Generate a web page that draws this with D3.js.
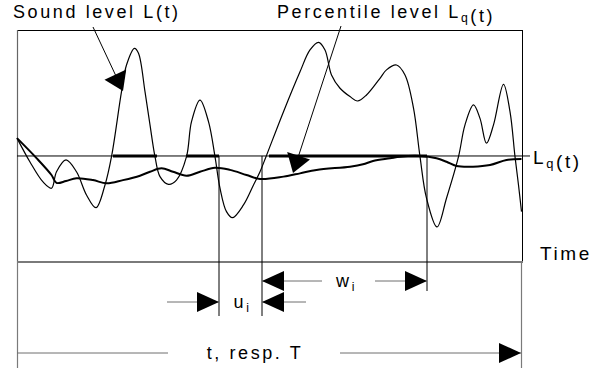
<!DOCTYPE html>
<html>
<head>
<meta charset="utf-8">
<script src="https://cdn.jsdelivr.net/npm/d3@7"></script>
<style>
  html, body { margin: 0; padding: 0; background: #fff; }
  svg text { font-family: "Liberation Sans", Arial, sans-serif; fill: #000; }
</style>
</head>
<body>
<div id="chart"></div>
<script>
// sound level L(t) (time 0..101, level 0..100)
var soundTime = [0, 2.6, 5.2, 6.9, 7.9, 9.8, 11.9, 13.9, 15.8, 17.6, 18.9, 20.9, 21.9, 23.5, 24.3,
  25.6, 26.6, 27.6, 28.6, 30.3, 31.9, 33.9, 34.9, 36.6, 38.3, 39.6, 40.6, 41.9, 43.1, 45.3,
  47.3, 48.6, 49.8, 53.3, 56.6, 58.6, 60.3, 61.6, 62.9, 64.6, 66.6, 68.1, 69.9, 72.6, 73.9,
  75.9, 77.6, 79.3, 80.6, 81.9, 84.0, 85.9, 88.3, 89.6, 91.3, 92.6, 93.9, 95.3, 97.3, 98.6,
  99.6, 100.3, 100.9];
var soundLevel = [53.4, 43.1, 34.5, 31.8, 38.9, 44.0, 38.9, 28.9, 23.4, 33.2, 45.4, 73.4, 84.9, 92.1, 90.0,
  73.4, 59.1, 45.4, 36.8, 33.5, 35.3, 45.4, 60.5, 69.8, 60.5, 45.4, 31.8, 21.7, 19.1, 24.6,
  33.2, 38.9, 45.4, 64.8, 82.0, 91.4, 94.7, 91.4, 80.6, 74.9, 71.3, 69.4, 72.0, 79.2, 82.8,
  84.9, 80.6, 66.3, 45.4, 27.5, 15.1, 27.5, 45.4, 59.1, 67.7, 61.9, 51.2, 59.1, 76.6, 64.8,
  45.4, 33.2, 21.7];

// percentile level Lq(t)
var pctTime = [0, 3.9, 6.9, 7.9, 9.8, 11.9, 15.2, 17.9, 21.2, 24.6, 26.6, 28.9, 31.2, 33.9, 36.6,
  39.6, 42.6, 45.9, 48.6, 53.3, 56.6, 59.9, 66.6, 69.2, 71.2, 74.6, 76.6, 80.6, 83.9, 85.9,
  87.9, 91.2, 94.6, 97.9, 100.9];
var pctLevel = [53.4, 44.8, 37.5, 34.1, 34.9, 36.1, 35.3, 33.9, 35.3, 37.2, 38.9, 40.4, 38.9, 37.2, 38.9,
  40.6, 39.7, 37.5, 35.8, 36.8, 38.2, 39.7, 41.1, 42.1, 43.5, 44.7, 45.4, 45.7, 44.7, 43.2,
  41.4, 41.1, 41.8, 44.0, 44.4];

var lqLevel = 45.7;
var exceedStart = [19.2, 33.8, 50.4];
var exceedEnd = [28.0, 40.4, 82.0];
var uStart = 40.4, uEnd = 49.0, wEnd = 82.0;
var totalTime = 100.8;
var timeMax = 101;

// callout tips (data) for the two labels
var soundTip = [21.2, 73.7];
var pctTip = [55.2, 38.4];

var width = 609, height = 368;
var svg = d3.select("#chart").append("svg")
    .attr("width", width)
    .attr("height", height);

var x = d3.scaleLinear().domain([0, timeMax]).range([17, 522]);
var y = d3.scaleLinear().domain([0, 100]).range([262, 30]);

var rowW = 281, rowU = 302, rowT = 353;

function arrowHead(g, tip, from, len, hw) {
    var dx = tip[0] - from[0], dy = tip[1] - from[1];
    var d = Math.sqrt(dx * dx + dy * dy);
    dx /= d; dy /= d;
    var bx = tip[0] - dx * len, by = tip[1] - dy * len;
    var pts = [tip, [bx - dy * hw, by + dx * hw], [bx + dy * hw, by - dx * hw]];
    g.append("polygon").attr("points", pts.map(function(p) { return p.join(","); }).join(" "))
        .attr("fill", "#000");
}

function hline(x1, x2, yy, col, w) {
    svg.append("line").attr("x1", x1).attr("x2", x2).attr("y1", yy).attr("y2", yy)
        .attr("stroke", col || "#000").attr("stroke-width", w || 1);
}
function vline(xx, y1, y2, col, w) {
    svg.append("line").attr("x1", xx).attr("x2", xx).attr("y1", y1).attr("y2", y2)
        .attr("stroke", col || "#000").attr("stroke-width", w || 1);
}

/* ------- FRAME -------*/
hline(x(0), x(timeMax), y(100) + 0.5, "#000", 1);
vline(x(timeMax) + 0.5, y(100), y(0), "#000", 1);
vline(x(0) + 0.5, y(100), y(0), "#666", 1.2);
hline(x(0), x(timeMax) + 1, y(0), "#7a7a7a", 2);
vline(x(0) + 0.5, y(0), height, "#7a7a7a", 1.2);
vline(x(totalTime) + 0.5, y(0), height, "#7a7a7a", 1.2);

/* ------- LEVEL Lq -------*/
hline(x(0), 530, y(lqLevel), "#000", 1);
exceedStart.forEach(function(s, i) {
    hline(x(s), x(exceedEnd[i]), y(lqLevel), "#000", 3);
});

// marker verticals
vline(x(uStart), y(lqLevel), 316, "#000", 1);
vline(x(uEnd), y(lqLevel), 316, "#000", 1);
vline(x(wEnd), y(lqLevel), 291, "#000", 1);

/* ------- CURVES -------*/
var line = d3.line()
    .x(function(d) { return x(d[0]); })
    .y(function(d) { return y(d[1]); })
    .curve(d3.curveCatmullRom.alpha(0.5));

svg.append("path")
    .attr("d", line(d3.zip(pctTime, pctLevel)))
    .attr("fill", "none").attr("stroke", "#000").attr("stroke-width", 2);

svg.append("path")
    .attr("d", line(d3.zip(soundTime, soundLevel)))
    .attr("fill", "none").attr("stroke", "#000").attr("stroke-width", 1.2);

/* ------- CALLOUTS -------*/
var callouts = [
    { from: [93, 27], tip: [x(soundTip[0]), y(soundTip[1])] },
    { from: [341, 26], tip: [x(pctTip[0]), y(pctTip[1])] }
];
callouts.forEach(function(c) {
    var dx = c.tip[0] - c.from[0], dy = c.tip[1] - c.from[1];
    var d = Math.sqrt(dx * dx + dy * dy);
    svg.append("line")
        .attr("x1", c.from[0]).attr("y1", c.from[1])
        .attr("x2", c.tip[0] - dx / d * 17).attr("y2", c.tip[1] - dy / d * 17)
        .attr("stroke", "#000").attr("stroke-width", 1);
    arrowHead(svg, c.tip, c.from, 18, 12);
});

/* ------- DIMENSIONS -------*/
var gray = "#6e6e6e";
// w_i
hline(x(uEnd), 322, rowW, gray, 1);
arrowHead(svg, [x(uEnd), rowW], [x(uEnd) + 40, rowW], 22, 10);
hline(375, x(wEnd), rowW, gray, 1);
arrowHead(svg, [x(wEnd), rowW], [x(wEnd) - 40, rowW], 22, 10);
// u_i
hline(167, x(uStart), rowU, gray, 1);
arrowHead(svg, [x(uStart), rowU], [x(uStart) - 40, rowU], 22, 10);
hline(x(uEnd), 306, rowU, gray, 1);
arrowHead(svg, [x(uEnd), rowU], [x(uEnd) + 40, rowU], 22, 10);
// t, resp. T
hline(x(0), 168, rowT, gray, 1);
hline(340, x(totalTime), rowT, gray, 1);
arrowHead(svg, [x(totalTime), rowT], [x(totalTime) - 40, rowT], 22, 10);

/* ------- TEXT -------*/
function label(tx, ty, parts, size, anchor) {
    var t = svg.append("text")
        .attr("x", tx).attr("y", ty)
        .attr("font-size", size)
        .attr("letter-spacing", "2.6px")
        .attr("text-anchor", anchor || "start");
    parts.forEach(function(p) {
        if (p.sub) {
            t.append("tspan").attr("font-size", size * 0.68).attr("dy", 4).text(p.sub);
            t.append("tspan").attr("dy", -4).text("");
        } else {
            t.append("tspan").text(p.txt);
        }
    });
    return t;
}

label(13, 18, [{ txt: "Sound level L(t)" }], 18);
label(277, 18, [{ txt: "Percentile level L" }, { sub: "q" }, { txt: "(t)" }], 18);
label(533, 164, [{ txt: "L" }, { sub: "q" }, { txt: "(t)" }], 19);
label(540, 260, [{ txt: "Time" }], 19);
label((x(uEnd) + x(wEnd)) / 2 + 2, 287, [{ txt: "w" }, { sub: "i" }], 18, "middle");
label((x(uStart) + x(uEnd)) / 2 + 2, 308, [{ txt: "u" }, { sub: "i" }], 18, "middle");
label(255, 359, [{ txt: "t, resp. T" }], 18, "middle");
</script>
</body>
</html>
